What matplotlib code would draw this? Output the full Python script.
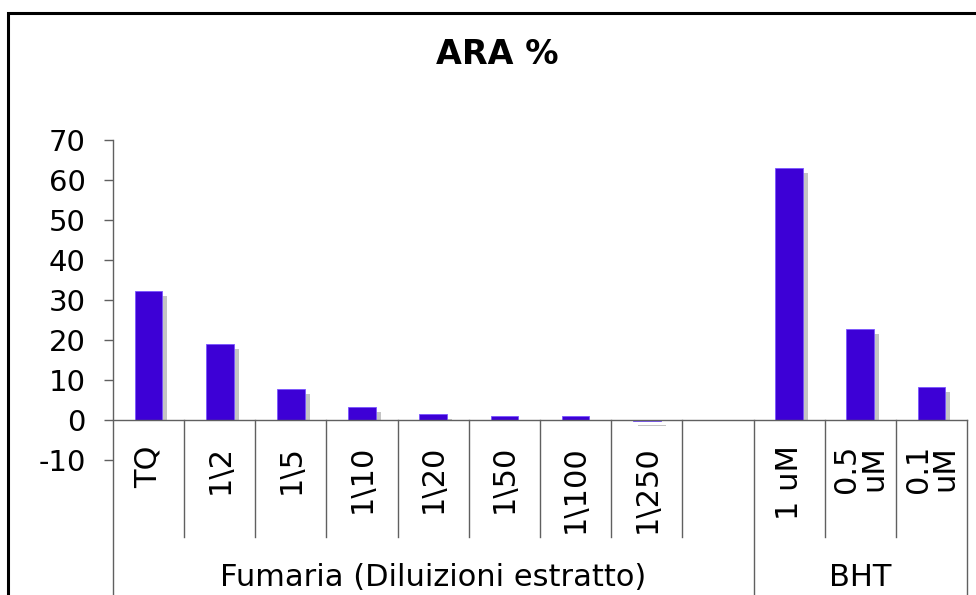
import matplotlib.pyplot as plt
import matplotlib.patches as patches
import numpy as np

plt.rcParams['axes.unicode_minus'] = False

categories = ['TQ', '1\\2', '1\\5', '1\\10', '1\\20', '1\\50', '1\\100', '1\\250', '',
              '1 uM', '0.5\nuM', '0.1\nuM']
values = [32.3, 18.9, 7.8, 3.2, 1.6, 1.1, 0.9, -0.3, np.nan, 62.9, 22.8, 8.3]
groups = ['Fumaria (Diluizioni estratto)', 'BHT']
group_edges = [(-0.5, 8.5), (8.5, 11.5)]

bar_color = '#3d00d6'
line_color = '#606060'

fig = plt.figure(figsize=(9.76, 5.95), dpi=100)
ax = fig.add_axes([113 / 976, 135 / 595, 854 / 976, 320 / 595])

x = np.arange(len(categories))
vals = np.array(values, dtype=float)
ok = ~np.isnan(vals)

# gray drop shadow, shifted right and down by a few pixels
shift = 1.25
sh_bottom = np.where(vals >= 0, 0, -shift)
sh_height = np.where(vals >= 0, np.clip(vals - shift, 0, None), vals)
ax.bar(x[ok] + 0.07, sh_height[ok], width=0.39, bottom=sh_bottom[ok],
       color='#c4c4c4', zorder=1)
ax.bar(x[ok], vals[ok], width=0.39, color=bar_color,
       edgecolor='#7a55ff', linewidth=0.6, zorder=2)

ax.set_xlim(-0.5, len(categories) - 0.5)
ax.set_ylim(-10, 70)
ax.set_yticks(range(-10, 71, 10))
ax.tick_params(axis='y', labelsize=21, length=6.5, width=1, color=line_color, pad=13)
ax.set_xticks([])
for s in ax.spines.values():
    s.set_visible(False)

# axis lines drawn by hand, Excel style
ax.plot([-0.5, len(categories) - 0.5], [0, 0], color=line_color, lw=1, clip_on=False, zorder=3)
ax.plot([-0.5, -0.5], [70, -44], color=line_color, lw=1, clip_on=False)
long_edges = {e for g in group_edges for e in g}
for b in np.arange(0.5, len(categories), 1.0):
    bottom = -44 if b in long_edges else -29.25
    ax.plot([b, b], [0, bottom], color=line_color, lw=1, clip_on=False)

for xi, lab in zip(x, categories):
    ax.text(xi, -6.25, lab, rotation=90, ha='center', va='top', multialignment='right',
            fontsize=22, linespacing=0.9, clip_on=False)

for name, (a, b) in zip(groups, group_edges):
    ax.text((a + b) / 2, -39.25, name, ha='center', va='center', fontsize=22, clip_on=False)

fig.text(497 / 976, 1 - 55 / 595, 'ARA %', ha='center', va='center',
         fontsize=24, fontweight='bold')

frame = patches.Rectangle((8 / 976, -0.1), 1.2, 1.1 - 13 / 595, transform=fig.transFigure,
                          fill=False, edgecolor='black', linewidth=2.2, clip_on=False)
fig.add_artist(frame)

fig.savefig('out.png', dpi=100)
